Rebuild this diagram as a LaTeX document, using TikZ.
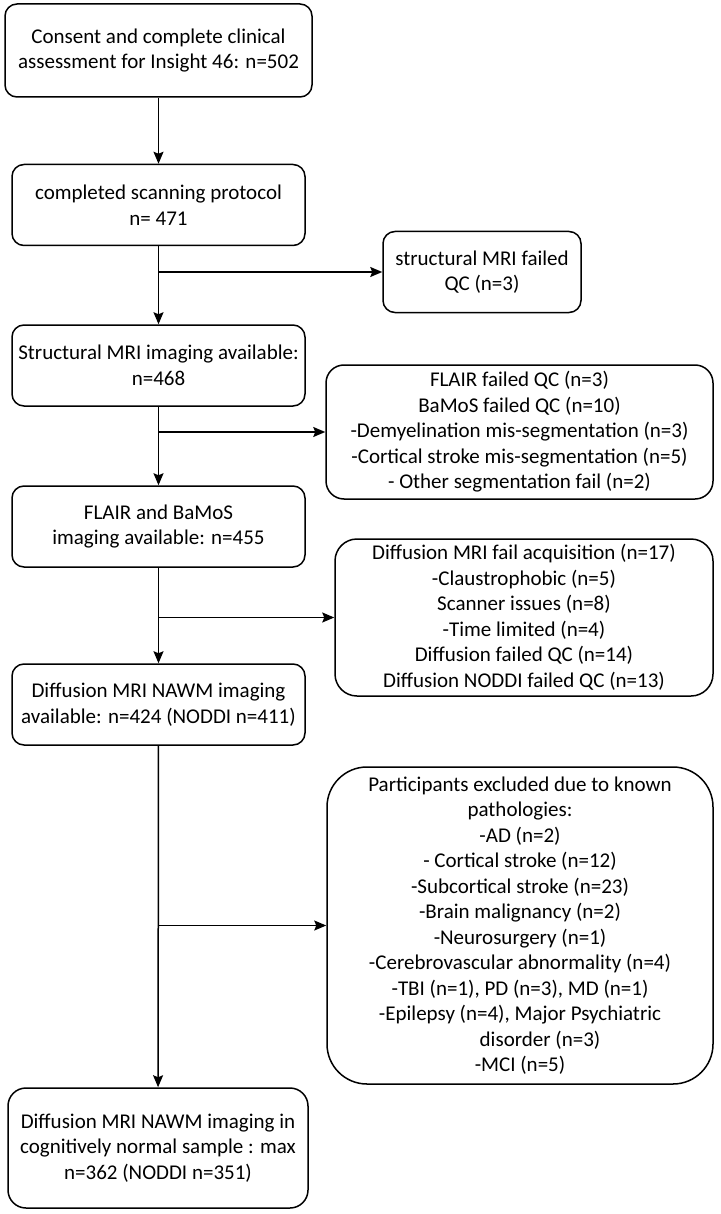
\documentclass[tikz,border=0pt]{standalone}
\usepackage{fontspec}
\setmainfont{Carlito}
\usetikzlibrary{arrows.meta,positioning,calc}
\newcommand{\mywidth}{293pt}
\tikzset{
    mainsty/.style={draw,rectangle,rounded corners=12pt,line width=1.5pt,align=center,
        minimum width=\mywidth,minimum height=81pt,inner sep=2pt,
        font=\fontsize{21}{25.5}\selectfont},
    exclsty/.style={mainsty,minimum width=387pt},
    flowsty/.style={line width=1.5pt,-{Stealth[length=12pt,width=10pt,inset=2pt]}},
}

\begin{document}
\begin{tikzpicture}[x=1pt,y=-1pt]
\useasboundingbox (0,0) rectangle (720,1214);

\node[mainsty,minimum width=307pt,minimum height=93pt] (consent) at (158.5,50.5)
  {Consent and complete clinical\\assessment for Insight 46: n=502};
\node[mainsty] (scan) at (158.5,205) {completed scanning protocol\\n= 471};
\node[mainsty] (struct) at (158.5,365.5) {Structural MRI imaging available:\\n=468};
\node[mainsty] (flair) at (158.5,526.5) {FLAIR and BaMoS\\imaging available: n=455};
\node[mainsty] (diff) at (158.5,704.5) {Diffusion MRI NAWM imaging\\available: n=424 (NODDI n=411)};
\node[mainsty,minimum width=300pt,minimum height=120pt,rounded corners=18pt] (final) at (158,1148)
  {Diffusion MRI NAWM imaging in\\cognitively normal sample : max\\n=362 (NODDI n=351)};

% exclusion boxes
\node[mainsty,minimum width=198pt] (xstruct) at (482,272) {structural MRI failed\\QC (n=3)};
\node[exclsty,minimum height=134pt,rounded corners=18pt] (xflair) at (519.5,432)
  {FLAIR failed QC (n=3)\\BaMoS failed QC (n=10)\\-Demyelination mis-segmentation (n=3)\\
   -Cortical stroke mis-segmentation (n=5)\\- Other segmentation fail (n=2)};
\node[exclsty,minimum width=378pt,minimum height=157pt,rounded corners=22pt] (xdiff) at (524,617.5)
  {Diffusion MRI fail acquisition (n=17)\\-Claustrophobic (n=5)\\Scanner issues (n=8)\\
   -Time limited (n=4)\\Diffusion failed QC (n=14)\\Diffusion NODDI failed QC (n=13)};
\node[exclsty,minimum width=386pt,minimum height=317pt,rounded corners=40pt] (xpath) at (520,925.5)
  {Participants excluded due to known\\pathologies:\\-AD (n=2)\\- Cortical stroke (n=12)\\
   -Subcortical stroke (n=23)\\-Brain malignancy (n=2)\\-Neurosurgery (n=1)\\
   -Cerebrovascular abnormality (n=4)\\-TBI (n=1), PD (n=3), MD (n=1)\\
   -Epilepsy (n=4), Major Psychiatric\\\hspace*{40pt}disorder (n=3)\\-MCI (n=5)};

% junctions on the main line
\coordinate (j1) at (scan.south |- xstruct.west);
\coordinate (j2) at (struct.south |- xflair.west);
\coordinate (j3) at (flair.south |- xdiff.west);
\coordinate (j4) at (diff.south |- xpath.west);

\draw[flowsty] (consent) -- (scan);
\draw[flowsty] (scan) -- (struct);
\draw[flowsty] (struct) -- (flair);
\draw[flowsty] (flair) -- (diff);
\draw[flowsty] (diff) -- (final);

\draw[flowsty] (j1) -- (xstruct.west);
\draw[flowsty] (j2) -- (xflair.west);
\draw[flowsty] (j3) -- (xdiff.west);
\draw[flowsty] (j4) -- (xpath.west);

\end{tikzpicture}
\end{document}
